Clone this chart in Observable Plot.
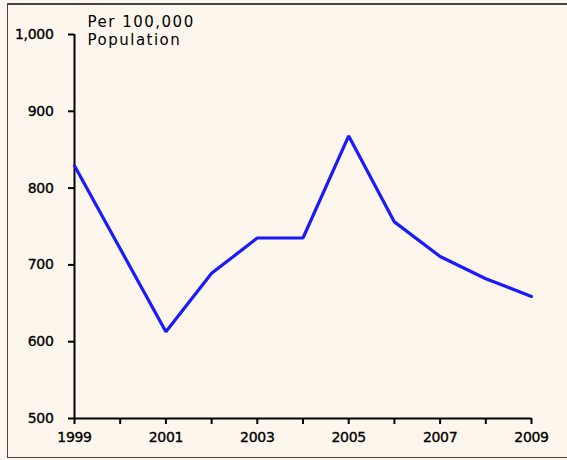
<!DOCTYPE html>
<html>
<head>
<meta charset="utf-8">
<script src="https://cdn.jsdelivr.net/npm/d3@7"></script>
<script src="https://cdn.jsdelivr.net/npm/@observablehq/plot@0.6"></script>
<style>
  html, body { margin: 0; padding: 0; background: #fdf6ec; }
  #wrap { position: relative; width: 567px; height: 460px; background: #fdf6ec; overflow: hidden; }
  #border { position: absolute; left: 7px; top: 3px; width: 600px; height: 452px;
    border-top: 2px solid #444; border-left: 1px solid #444; border-bottom: 1px solid #444; }
  #chart { position: absolute; left: 0; top: 0; }
  #chart g[aria-label="text"] text { letter-spacing: 1.5px; }
  #chart g[aria-label="y-axis tick label"],
  #chart g[aria-label="x-axis tick label"] { font-size: 14px !important; letter-spacing: -0.3px;
    stroke: #000; stroke-width: 0.35px; }
</style>
</head>
<body>
<div id="wrap"><div id="border"></div><div id="chart"></div></div>
<script>
const years = [1999, 2000, 2001, 2002, 2003, 2004, 2005, 2006, 2007, 2008, 2009];
const rates = [829, 721, 613, 689, 735, 735, 868, 756, 711, 682, 659];
const yTicks = [500, 600, 700, 800, 900, 1000];
const xLabelYears = [1999, 2001, 2003, 2005, 2007, 2009];
const unitLabel = "Per 100,000\nPopulation";

const data = years.map((y, i) => ({year: y, rate: rates[i]}));
const font = "'DejaVu Sans', Verdana, sans-serif";

const chart = Plot.plot({
  width: 567,
  height: 460,
  marginLeft: 74,
  marginRight: 36,
  marginTop: 34,
  marginBottom: 42,
  style: {background: "transparent", fontFamily: font, fontSize: "14px", color: "#000"},
  x: {domain: [1999, 2009], label: null},
  y: {domain: [500, 1000], label: null},
  marks: [
    Plot.axisY({ticks: yTicks, tickFormat: d3.format(","), tickSize: 6, tickPadding: 15,
      strokeWidth: 2, fontSize: 14, label: null}),
    Plot.axisX({ticks: years, tickFormat: () => "", tickSize: 6, strokeWidth: 2, label: null}),
    Plot.axisX({ticks: xLabelYears, tickFormat: d => String(d), tickSize: 0, tickPadding: 14,
      fontSize: 14, label: null}),
    Plot.ruleY([500], {stroke: "#000", strokeWidth: 2}),
    Plot.ruleX([1999], {stroke: "#000", strokeWidth: 2}),
    Plot.line(data, {x: "year", y: "rate", stroke: "#1a1aff", strokeWidth: 3.2, strokeLinejoin: "miter"}),
    Plot.text([unitLabel], {frameAnchor: "top-left", dx: 13, dy: -20, lineAnchor: "top",
      textAnchor: "start", fontSize: 15, fill: "#000", lineHeight: 1.2})
  ]
});
document.getElementById("chart").appendChild(chart);
</script>
</body>
</html>
